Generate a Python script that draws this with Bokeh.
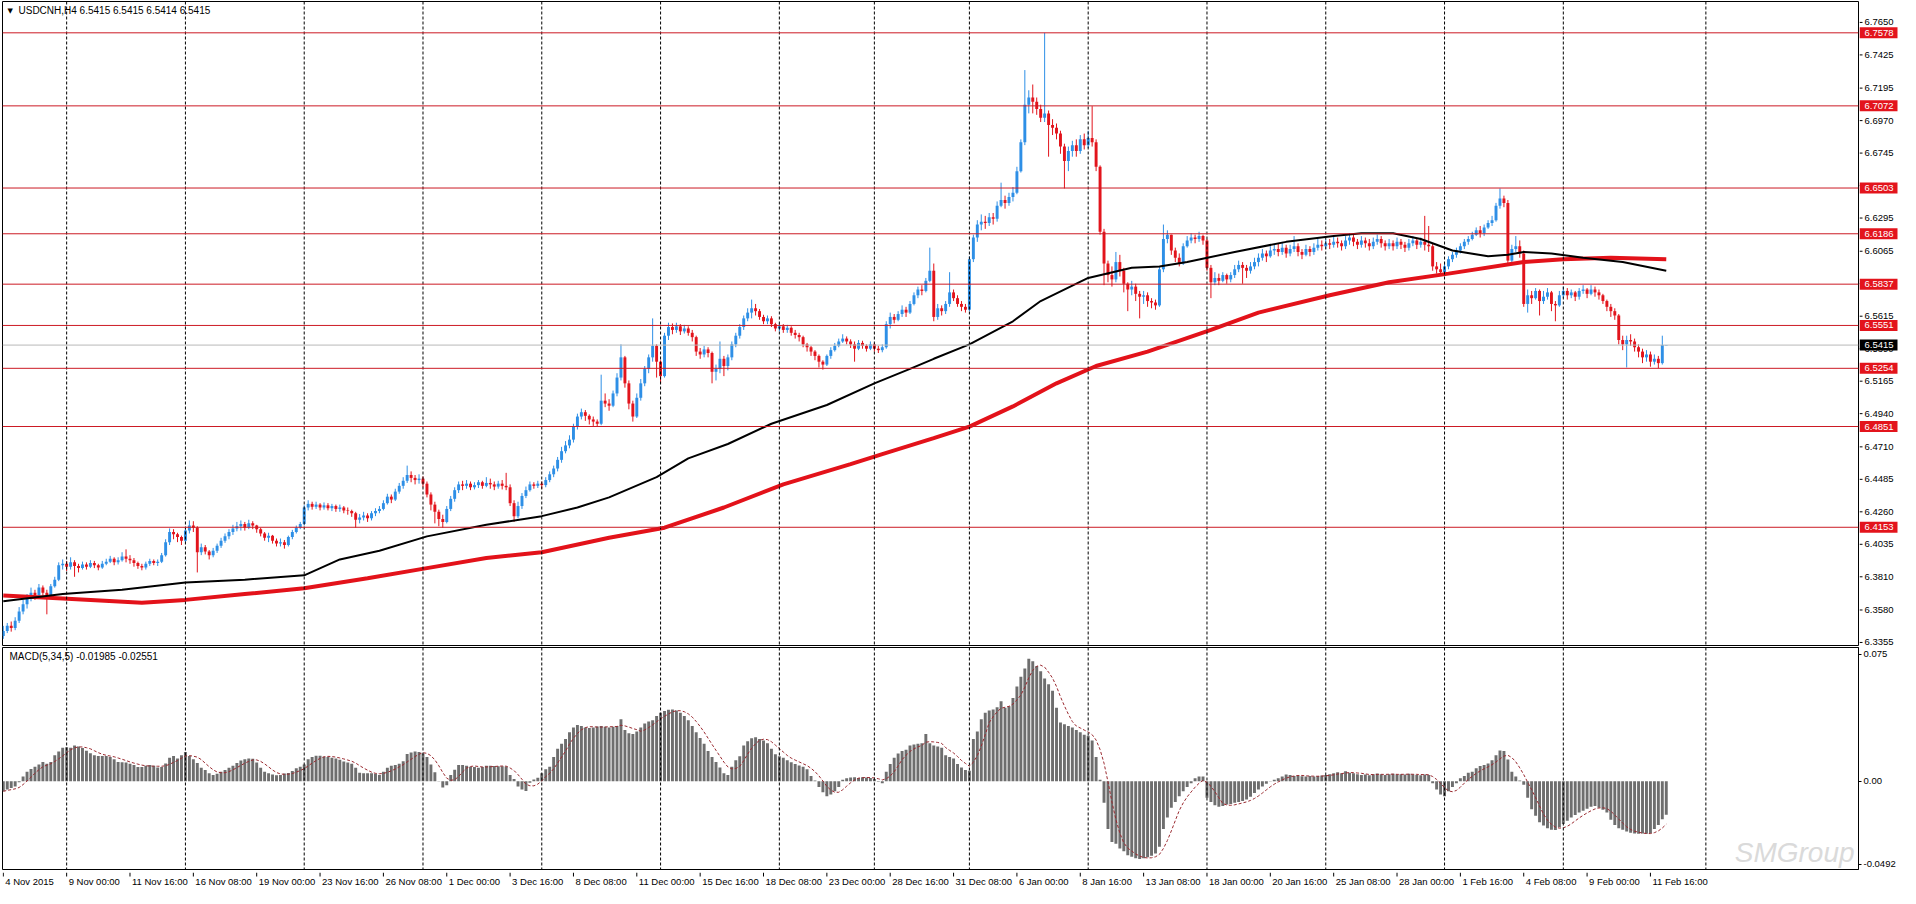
from bokeh.plotting import figure
from bokeh.models import Range1d, FixedTicker, Label, Span, ColumnDataSource
from bokeh.layouts import column, row
from bokeh.embed import file_html
from bokeh.resources import INLINE
from bokeh.core.properties import value

FONT = "Liberation Sans"

# ---------------- data ----------------
first_open = 6.3400

close = [
6.3435, 6.3470, 6.3455, 6.3505, 6.3570, 6.3620, 6.3660, 6.3700, 6.3680, 6.3735,
6.3700, 6.3680, 6.3745, 6.3790, 6.3890, 6.3900, 6.3880, 6.3910, 6.3885, 6.3870,
6.3895, 6.3880, 6.3905, 6.3890, 6.3875, 6.3900, 6.3915, 6.3935, 6.3910, 6.3925,
6.3950, 6.3935, 6.3925, 6.3905, 6.3885, 6.3875, 6.3900, 6.3920, 6.3905, 6.3915,
6.3960, 6.4050, 6.4120, 6.4105, 6.4085, 6.4060, 6.4130, 6.4165, 6.4150, 6.3980,
6.4015, 6.3985, 6.3960, 6.3990, 6.4025, 6.4060, 6.4090, 6.4120, 6.4145, 6.4160,
6.4175, 6.4150, 6.4180, 6.4165, 6.4140, 6.4110, 6.4080, 6.4095, 6.4060, 6.4040,
6.4050, 6.4030, 6.4085, 6.4120, 6.4150, 6.4175, 6.4290, 6.4315, 6.4295, 6.4310,
6.4290, 6.4305, 6.4285, 6.4300, 6.4280, 6.4290, 6.4270, 6.4265, 6.4250, 6.4205,
6.4220, 6.4235, 6.4215, 6.4250, 6.4265, 6.4280, 6.4320, 6.4365, 6.4345, 6.4400,
6.4440, 6.4475, 6.4515, 6.4495, 6.4480, 6.4490, 6.4455, 6.4380, 6.4310, 6.4260,
6.4210, 6.4190, 6.4280, 6.4350, 6.4410, 6.4450, 6.4440, 6.4455, 6.4430, 6.4445,
6.4465, 6.4440, 6.4460, 6.4450, 6.4435, 6.4455, 6.4440, 6.4430, 6.4320, 6.4230,
6.4300, 6.4370, 6.4410, 6.4450, 6.4440, 6.4455, 6.4445, 6.4480, 6.4520, 6.4560,
6.4620, 6.4680, 6.4720, 6.4760, 6.4850, 6.4920, 6.4950, 6.4925, 6.4900, 6.4885,
6.4870, 6.5030, 6.5010, 6.4995, 6.5080, 6.5190, 6.5330, 6.5150, 6.5010, 6.4920,
6.5050, 6.5150, 6.5250, 6.5330, 6.5410, 6.5300, 6.5200, 6.5480, 6.5540, 6.5520,
6.5545, 6.5510, 6.5530, 6.5500, 6.5470, 6.5370, 6.5350, 6.5385, 6.5360, 6.5230,
6.5250, 6.5320, 6.5270, 6.5330, 6.5420, 6.5480, 6.5540, 6.5600, 6.5640, 6.5670,
6.5650, 6.5610, 6.5580, 6.5600, 6.5560, 6.5530, 6.5545, 6.5520, 6.5535, 6.5500,
6.5485, 6.5470, 6.5420, 6.5400, 6.5370, 6.5340, 6.5300, 6.5280, 6.5340, 6.5380,
6.5410, 6.5440, 6.5460, 6.5440, 6.5420, 6.5390, 6.5430, 6.5410, 6.5390, 6.5420,
6.5390, 6.5380, 6.5400, 6.5560, 6.5610, 6.5590, 6.5630, 6.5660, 6.5640, 6.5700,
6.5760, 6.5800, 6.5790, 6.5860, 6.5930, 6.5610, 6.5670, 6.5650, 6.5700, 6.5780,
6.5740, 6.5700, 6.5680, 6.5660, 6.6010, 6.6160, 6.6250, 6.6270, 6.6260, 6.6300,
6.6290, 6.6380, 6.6420, 6.6400, 6.6440, 6.6470, 6.6620, 6.6820, 6.7080, 6.7130,
6.7100, 6.7050, 6.6990, 6.7020, 6.6940, 6.6920, 6.6880, 6.6790, 6.6690, 6.6760,
6.6800, 6.6760, 6.6840, 6.6800, 6.6850, 6.6820, 6.6650, 6.6200, 6.5980, 6.5900,
6.5870, 6.5990, 6.5930, 6.5840, 6.5800, 6.5820, 6.5770, 6.5750, 6.5760, 6.5720,
6.5710, 6.5690, 6.5940, 6.6150, 6.6180, 6.6070, 6.6020, 6.5980, 6.6100, 6.6140,
6.6160, 6.6150, 6.6170, 6.6140, 6.5950, 6.5850, 6.5880, 6.5860, 6.5900, 6.5870,
6.5900, 6.5940, 6.5970, 6.5950, 6.5930, 6.5960, 6.5990, 6.6020, 6.6050, 6.6030,
6.6070, 6.6080, 6.6060, 6.6090, 6.6050, 6.6080, 6.6100, 6.6060, 6.6040, 6.6080,
6.6060, 6.6090, 6.6110, 6.6100, 6.6120, 6.6110, 6.6130, 6.6120, 6.6100, 6.6140,
6.6160, 6.6130, 6.6110, 6.6140, 6.6120, 6.6100, 6.6130, 6.6150, 6.6120, 6.6100,
6.6120, 6.6100, 6.6130, 6.6110, 6.6090, 6.6120, 6.6140, 6.6110, 6.6130, 6.6110,
6.6100, 6.5960, 6.5940, 6.5920, 6.5960, 6.6010, 6.6040, 6.6070, 6.6100, 6.6130,
6.6150, 6.6180, 6.6210, 6.6190, 6.6230, 6.6260, 6.6280, 6.6380, 6.6430, 6.6400,
6.6000, 6.6080, 6.6100, 6.6050, 6.5700, 6.5760, 6.5740, 6.5790, 6.5720, 6.5750,
6.5780, 6.5700, 6.5690, 6.5760, 6.5790, 6.5760, 6.5780, 6.5750, 6.5790, 6.5800,
6.5770, 6.5800, 6.5780, 6.5760, 6.5720, 6.5680, 6.5650, 6.5620, 6.5450, 6.5420,
6.5450, 6.5440, 6.5400, 6.5370, 6.5330, 6.5350, 6.5300, 6.5320, 6.5290, 6.5415, 6.5415,
]

high = [
6.3470, 6.3490, 6.3500, 6.3530, 6.3600, 6.3650, 6.3690, 6.3735, 6.3720, 6.3760,
6.3750, 6.3720, 6.3760, 6.3810, 6.3910, 6.3930, 6.3920, 6.3945, 6.3925, 6.3900,
6.3915, 6.3910, 6.3925, 6.3920, 6.3900, 6.3920, 6.3935, 6.3955, 6.3945, 6.3945,
6.3980, 6.4000, 6.3960, 6.3940, 6.3915, 6.3900, 6.3915, 6.3935, 6.3930, 6.3930,
6.3975, 6.4070, 6.4145, 6.4140, 6.4115, 6.4095, 6.4150, 6.4200, 6.4195, 6.4160,
6.4040, 6.4030, 6.3995, 6.4010, 6.4040, 6.4080, 6.4110, 6.4140, 6.4170, 6.4190,
6.4200, 6.4190, 6.4205, 6.4195, 6.4170, 6.4150, 6.4120, 6.4115, 6.4100, 6.4075,
6.4075, 6.4065, 6.4095, 6.4135, 6.4165, 6.4190, 6.4305, 6.4340, 6.4330, 6.4330,
6.4320, 6.4325, 6.4320, 6.4315, 6.4310, 6.4310, 6.4300, 6.4290, 6.4275, 6.4260,
6.4245, 6.4260, 6.4250, 6.4265, 6.4285, 6.4300, 6.4340, 6.4385, 6.4380, 6.4420,
6.4460, 6.4500, 6.4580, 6.4540, 6.4515, 6.4520, 6.4505, 6.4470, 6.4395, 6.4330,
6.4275, 6.4240, 6.4300, 6.4370, 6.4430, 6.4470, 6.4475, 6.4480, 6.4470, 6.4465,
6.4480, 6.4475, 6.4500, 6.4490, 6.4470, 6.4475, 6.4480, 6.4530, 6.4450, 6.4340,
6.4330, 6.4390, 6.4435, 6.4470, 6.4465, 6.4475, 6.4470, 6.4500, 6.4540, 6.4580,
6.4640, 6.4710, 6.4750, 6.4790, 6.4870, 6.4940, 6.4975, 6.4965, 6.4935, 6.4920,
6.4900, 6.5210, 6.5080, 6.5040, 6.5100, 6.5220, 6.5420, 6.5340, 6.5170, 6.5030,
6.5080, 6.5180, 6.5270, 6.5350, 6.5600, 6.5420, 6.5310, 6.5500, 6.5570, 6.5565,
6.5570, 6.5560, 6.5555, 6.5545, 6.5520, 6.5480, 6.5395, 6.5410, 6.5400, 6.5370,
6.5280, 6.5440, 6.5340, 6.5350, 6.5440, 6.5500, 6.5560, 6.5620, 6.5670, 6.5730,
6.5700, 6.5665, 6.5625, 6.5620, 6.5615, 6.5570, 6.5565, 6.5560, 6.5555, 6.5545,
6.5520, 6.5500, 6.5480, 6.5430, 6.5410, 6.5380, 6.5350, 6.5310, 6.5350, 6.5400,
6.5430, 6.5460, 6.5490, 6.5475, 6.5455, 6.5440, 6.5450, 6.5445, 6.5420, 6.5440,
6.5430, 6.5410, 6.5420, 6.5580, 6.5640, 6.5630, 6.5650, 6.5690, 6.5680, 6.5720,
6.5780, 6.5820, 6.5830, 6.5880, 6.6090, 6.5980, 6.5700, 6.5690, 6.5720, 6.5920,
6.5800, 6.5760, 6.5720, 6.5700, 6.6030, 6.6180, 6.6280, 6.6320, 6.6310, 6.6330,
6.6330, 6.6410, 6.6540, 6.6450, 6.6470, 6.6510, 6.6650, 6.6840, 6.7320, 6.7180,
6.7220, 6.7130, 6.7080, 6.7578, 6.7040, 6.6980, 6.6950, 6.6900, 6.6810, 6.6790,
6.6830, 6.6840, 6.6870, 6.6880, 6.6900, 6.7070, 6.6840, 6.6660, 6.6220, 6.6000,
6.5960, 6.6060, 6.6040, 6.5950, 6.5850, 6.5860, 6.5840, 6.5790, 6.5790, 6.5780,
6.5740, 6.5730, 6.5960, 6.6250, 6.6210, 6.6180, 6.6090, 6.6050, 6.6120, 6.6170,
6.6190, 6.6180, 6.6200, 6.6180, 6.6150, 6.5970, 6.5920, 6.5910, 6.5920, 6.5910,
6.5920, 6.5970, 6.6000, 6.5990, 6.5970, 6.5990, 6.6020, 6.6050, 6.6080, 6.6070,
6.6100, 6.6110, 6.6120, 6.6130, 6.6110, 6.6110, 6.6170, 6.6120, 6.6080, 6.6110,
6.6100, 6.6120, 6.6150, 6.6140, 6.6150, 6.6150, 6.6170, 6.6160, 6.6140, 6.6170,
6.6190, 6.6180, 6.6150, 6.6170, 6.6160, 6.6150, 6.6160, 6.6180, 6.6170, 6.6140,
6.6150, 6.6140, 6.6160, 6.6150, 6.6130, 6.6150, 6.6170, 6.6150, 6.6160, 6.6310,
6.6240, 6.6120, 6.5990, 6.5980, 6.5990, 6.6030, 6.6060, 6.6090, 6.6120, 6.6150,
6.6170, 6.6200, 6.6230, 6.6240, 6.6250, 6.6280, 6.6310, 6.6400, 6.6500, 6.6450,
6.6420, 6.6110, 6.6170, 6.6140, 6.6070, 6.5800, 6.5790, 6.5810, 6.5800, 6.5790,
6.5810, 6.5790, 6.5720, 6.5790, 6.5820, 6.5810, 6.5800, 6.5790, 6.5810, 6.5830,
6.5810, 6.5830, 6.5820, 6.5800, 6.5770, 6.5730, 6.5700, 6.5670, 6.5630, 6.5480,
6.5480, 6.5490, 6.5460, 6.5420, 6.5390, 6.5380, 6.5370, 6.5350, 6.5340, 6.5480, 6.5415,
]

low = [
6.3380, 6.3420, 6.3430, 6.3440, 6.3490, 6.3550, 6.3590, 6.3640, 6.3650, 6.3670,
6.3680, 6.3550, 6.3670, 6.3735, 6.3780, 6.3860, 6.3850, 6.3860, 6.3810, 6.3840,
6.3860, 6.3860, 6.3870, 6.3870, 6.3855, 6.3865, 6.3890, 6.3905, 6.3890, 6.3895,
6.3915, 6.3910, 6.3900, 6.3880, 6.3865, 6.3855, 6.3860, 6.3885, 6.3890, 6.3885,
6.3905, 6.3950, 6.4030, 6.4070, 6.4050, 6.4030, 6.4050, 6.4110, 6.4120, 6.3840,
6.3960, 6.3965, 6.3930, 6.3945, 6.3975, 6.4010, 6.4045, 6.4070, 6.4100, 6.4125,
6.4130, 6.4130, 6.4140, 6.4140, 6.4115, 6.4090, 6.4060, 6.4050, 6.4040, 6.4020,
6.4020, 6.4005, 6.4020, 6.4070, 6.4110, 6.4140, 6.4165, 6.4270, 6.4275, 6.4280,
6.4270, 6.4275, 6.4270, 6.4265, 6.4260, 6.4260, 6.4250, 6.4240, 6.4225, 6.4150,
6.4180, 6.4200, 6.4190, 6.4200, 6.4230, 6.4250, 6.4270, 6.4310, 6.4320, 6.4335,
6.4385, 6.4420, 6.4460, 6.4465, 6.4450, 6.4455, 6.4430, 6.4360, 6.4270, 6.4180,
6.4160, 6.4150, 6.4180, 6.4265, 6.4330, 6.4390, 6.4410, 6.4420, 6.4410, 6.4415,
6.4425, 6.4420, 6.4430, 6.4420, 6.4410, 6.4420, 6.4415, 6.4410, 6.4300, 6.4190,
6.4215, 6.4280, 6.4355, 6.4400, 6.4420, 6.4425, 6.4420, 6.4430, 6.4465, 6.4500,
6.4540, 6.4600, 6.4665, 6.4700, 6.4740, 6.4830, 6.4900, 6.4890, 6.4865, 6.4855,
6.4850, 6.4860, 6.4985, 6.4960, 6.4985, 6.5060, 6.5170, 6.5120, 6.4970, 6.4885,
6.4910, 6.5030, 6.5130, 6.5220, 6.5300, 6.5190, 6.5150, 6.5190, 6.5450, 6.5490,
6.5500, 6.5485, 6.5495, 6.5480, 6.5440, 6.5340, 6.5320, 6.5330, 6.5330, 6.5150,
6.5170, 6.5220, 6.5200, 6.5240, 6.5310, 6.5400, 6.5460, 6.5520, 6.5580, 6.5600,
6.5620, 6.5590, 6.5560, 6.5560, 6.5540, 6.5510, 6.5510, 6.5500, 6.5500, 6.5480,
6.5460, 6.5440, 6.5400, 6.5370, 6.5340, 6.5310, 6.5260, 6.5245, 6.5270, 6.5320,
6.5370, 6.5400, 6.5430, 6.5420, 6.5395, 6.5300, 6.5380, 6.5390, 6.5370, 6.5380,
6.5370, 6.5360, 6.5365, 6.5390, 6.5530, 6.5565, 6.5580, 6.5610, 6.5610, 6.5630,
6.5690, 6.5740, 6.5760, 6.5780, 6.5850, 6.5580, 6.5590, 6.5620, 6.5630, 6.5680,
6.5720, 6.5680, 6.5650, 6.5640, 6.5650, 6.5990, 6.6130, 6.6210, 6.6220, 6.6240,
6.6250, 6.6270, 6.6370, 6.6360, 6.6380, 6.6410, 6.6460, 6.6610, 6.6800, 6.7020,
6.7020, 6.7010, 6.6960, 6.6960, 6.6720, 6.6870, 6.6840, 6.6740, 6.6500, 6.6620,
6.6720, 6.6720, 6.6740, 6.6770, 6.6780, 6.6790, 6.6620, 6.6180, 6.5830, 6.5850,
6.5820, 6.5850, 6.5890, 6.5780, 6.5650, 6.5760, 6.5720, 6.5600, 6.5700, 6.5680,
6.5670, 6.5660, 6.5680, 6.5920, 6.6120, 6.6040, 6.5990, 6.5960, 6.5970, 6.6090,
6.6120, 6.6120, 6.6130, 6.6110, 6.5930, 6.5740, 6.5830, 6.5830, 6.5850, 6.5840,
6.5850, 6.5880, 6.5920, 6.5840, 6.5880, 6.5910, 6.5940, 6.5960, 6.6000, 6.5990,
6.6020, 6.6040, 6.6030, 6.6040, 6.6020, 6.6030, 6.6060, 6.6030, 6.6010, 6.6030,
6.6030, 6.6040, 6.6070, 6.6070, 6.6080, 6.6080, 6.6090, 6.6090, 6.6070, 6.6080,
6.6110, 6.6100, 6.6080, 6.6090, 6.6090, 6.6070, 6.6080, 6.6110, 6.6090, 6.6070,
6.6080, 6.6070, 6.6080, 6.6080, 6.6060, 6.6070, 6.6100, 6.6080, 6.6090, 6.6070,
6.6060, 6.5930, 6.5910, 6.5900, 6.5910, 6.5940, 6.5990, 6.6020, 6.6050, 6.6080,
6.6110, 6.6140, 6.6170, 6.6160, 6.6170, 6.6220, 6.6240, 6.6270, 6.6360, 6.6370,
6.5980, 6.5990, 6.6060, 6.6020, 6.5680, 6.5640, 6.5700, 6.5730, 6.5620, 6.5700,
6.5730, 6.5650, 6.5580, 6.5680, 6.5740, 6.5730, 6.5740, 6.5720, 6.5730, 6.5770,
6.5740, 6.5760, 6.5750, 6.5730, 6.5700, 6.5650, 6.5610, 6.5590, 6.5420, 6.5380,
6.5260, 6.5410, 6.5370, 6.5330, 6.5290, 6.5300, 6.5265, 6.5280, 6.5255, 6.5280, 6.5414,
]

macd_main = [
-0.0060, -0.0050, -0.0041, -0.0031, -0.0006, 0.0027, 0.0056, 0.0072, 0.0085, 0.0099,
0.0114, 0.0103, 0.0114, 0.0153, 0.0176, 0.0198, 0.0201, 0.0198, 0.0211, 0.0205,
0.0196, 0.0180, 0.0165, 0.0153, 0.0149, 0.0149, 0.0149, 0.0143, 0.0130, 0.0114,
0.0112, 0.0110, 0.0103, 0.0095, 0.0083, 0.0083, 0.0091, 0.0095, 0.0091, 0.0081,
0.0083, 0.0105, 0.0138, 0.0149, 0.0134, 0.0153, 0.0172, 0.0149, 0.0130, 0.0107,
0.0079, 0.0066, 0.0046, 0.0037, 0.0043, 0.0056, 0.0066, 0.0079, 0.0091, 0.0108,
0.0122, 0.0130, 0.0134, 0.0132, 0.0110, 0.0079, 0.0056, 0.0046, 0.0039, 0.0035,
0.0037, 0.0045, 0.0048, 0.0060, 0.0076, 0.0085, 0.0099, 0.0130, 0.0143, 0.0151,
0.0151, 0.0145, 0.0143, 0.0138, 0.0134, 0.0126, 0.0116, 0.0110, 0.0103, 0.0079,
0.0050, 0.0046, 0.0046, 0.0046, 0.0043, 0.0037, 0.0056, 0.0079, 0.0091, 0.0095,
0.0103, 0.0118, 0.0161, 0.0169, 0.0176, 0.0172, 0.0163, 0.0143, 0.0099, 0.0052,
-0.0002, -0.0037, -0.0025, 0.0037, 0.0068, 0.0095, 0.0095, 0.0091, 0.0085, 0.0083,
0.0079, 0.0083, 0.0091, 0.0091, 0.0089, 0.0088, 0.0088, 0.0087, 0.0037, 0.0012,
-0.0031, -0.0050, -0.0058, -0.0010, 0.0010, 0.0020, 0.0046, 0.0070, 0.0085, 0.0143,
0.0192, 0.0221, 0.0250, 0.0289, 0.0318, 0.0333, 0.0327, 0.0318, 0.0314, 0.0318,
0.0323, 0.0327, 0.0322, 0.0318, 0.0322, 0.0327, 0.0366, 0.0302, 0.0283, 0.0279,
0.0294, 0.0318, 0.0341, 0.0353, 0.0360, 0.0385, 0.0405, 0.0415, 0.0422, 0.0424,
0.0418, 0.0405, 0.0385, 0.0360, 0.0327, 0.0289, 0.0256, 0.0221, 0.0178, 0.0143,
0.0114, 0.0081, 0.0046, 0.0037, 0.0085, 0.0124, 0.0147, 0.0211, 0.0236, 0.0254,
0.0260, 0.0250, 0.0240, 0.0225, 0.0192, 0.0159, 0.0147, 0.0139, 0.0124, 0.0112,
0.0101, 0.0093, 0.0085, 0.0070, 0.0031, 0.0004, -0.0035, -0.0066, -0.0089, -0.0079,
-0.0060, -0.0035, 0.0008, 0.0017, 0.0021, 0.0023, 0.0019, 0.0023, 0.0021, 0.0019,
0.0012, -0.0004, -0.0012, 0.0056, 0.0101, 0.0139, 0.0163, 0.0178, 0.0186, 0.0211,
0.0217, 0.0221, 0.0225, 0.0279, 0.0225, 0.0211, 0.0205, 0.0198, 0.0153, 0.0143,
0.0134, 0.0101, 0.0081, 0.0066, 0.0062, 0.0250, 0.0294, 0.0366, 0.0405, 0.0418,
0.0424, 0.0438, 0.0473, 0.0434, 0.0444, 0.0492, 0.0560, 0.0618, 0.0666, 0.0724,
0.0709, 0.0682, 0.0651, 0.0608, 0.0573, 0.0535, 0.0434, 0.0347, 0.0337, 0.0327,
0.0318, 0.0302, 0.0289, 0.0275, 0.0269, 0.0240, 0.0143, 0.0008, -0.0128, -0.0283,
-0.0360, -0.0370, -0.0399, -0.0415, -0.0438, -0.0447, -0.0457, -0.0461, -0.0457, -0.0451,
-0.0442, -0.0428, -0.0389, -0.0283, -0.0215, -0.0157, -0.0124, -0.0089, -0.0060, -0.0035,
-0.0012, 0.0017, 0.0027, 0.0027, -0.0099, -0.0124, -0.0143, -0.0151, -0.0147, -0.0139,
-0.0136, -0.0128, -0.0124, -0.0118, -0.0108, -0.0093, -0.0070, -0.0050, -0.0031, -0.0015,
-0.0002, 0.0008, 0.0017, 0.0027, 0.0039, 0.0037, 0.0031, 0.0033, 0.0029, 0.0027,
0.0031, 0.0027, 0.0031, 0.0033, 0.0037, 0.0041, 0.0046, 0.0052, 0.0046, 0.0058,
0.0050, 0.0046, 0.0041, 0.0037, 0.0039, 0.0035, 0.0041, 0.0045, 0.0041, 0.0037,
0.0041, 0.0043, 0.0039, 0.0041, 0.0039, 0.0043, 0.0041, 0.0037, 0.0035, 0.0039,
0.0037, -0.0012, -0.0050, -0.0079, -0.0089, -0.0060, -0.0035, -0.0012, 0.0017, 0.0031,
0.0050, 0.0056, 0.0076, 0.0089, 0.0095, 0.0105, 0.0124, 0.0153, 0.0182, 0.0178,
0.0128, 0.0056, 0.0027, 0.0004, -0.0021, -0.0099, -0.0167, -0.0205, -0.0244, -0.0263,
-0.0279, -0.0287, -0.0289, -0.0273, -0.0254, -0.0234, -0.0215, -0.0201, -0.0186, -0.0176,
-0.0163, -0.0151, -0.0147, -0.0157, -0.0170, -0.0186, -0.0229, -0.0260, -0.0279, -0.0287,
-0.0298, -0.0306, -0.0310, -0.0312, -0.0310, -0.0312, -0.0308, -0.0283, -0.0260, -0.0225, -0.0199,
]

# moving averages read at points along the lines (bar index, price)
ma_fast_bar = [0, 15, 30, 46, 61, 76, 85, 95, 107, 122, 136, 145, 153, 165, 173, 183, 194, 208,
               220, 229, 235, 244, 255, 262, 274, 285, 292, 299, 311, 324, 336, 343, 351, 358,
               366, 375, 380, 384, 391, 399, 409, 420]
ma_fast_val = [6.364, 6.369, 6.372, 6.377, 6.379, 6.382, 6.393, 6.399, 6.409, 6.417, 6.423, 6.429,
               6.436, 6.450, 6.463, 6.473, 6.487, 6.500, 6.515, 6.525, 6.532, 6.542, 6.558, 6.572,
               6.588, 6.595, 6.596, 6.599, 6.606, 6.613, 6.617, 6.619, 6.619, 6.615, 6.607, 6.603,
               6.604, 6.606, 6.605, 6.602, 6.599, 6.593]
ma_slow_bar = [0, 15, 35, 46, 61, 76, 92, 107, 122, 136, 153, 167, 182, 197, 214, 222, 235, 244,
               255, 266, 276, 289, 305, 317, 335, 350, 365, 384, 394, 406, 420]
ma_slow_val = [6.368, 6.366, 6.363, 6.365, 6.369, 6.373, 6.380, 6.387, 6.394, 6.398, 6.408, 6.415,
               6.429, 6.445, 6.459, 6.466, 6.477, 6.485, 6.499, 6.515, 6.527, 6.537, 6.552, 6.564,
               6.576, 6.585, 6.591, 6.599, 6.601, 6.602, 6.601]

levels = [6.7578, 6.7072, 6.6503, 6.6186, 6.5837, 6.5551, 6.5254, 6.4851, 6.4153]
last_price = 6.5415

price_ticks = [6.3355, 6.3580, 6.3810, 6.4035, 6.4260, 6.4485, 6.4710, 6.4940, 6.5165, 6.5390,
               6.5615, 6.5840, 6.6065, 6.6295, 6.6520, 6.6745, 6.6970, 6.7195, 6.7425, 6.7650]
macd_ticks = [0.075, 0.0, -0.0492]
macd_tick_labels = ["0.075", "0.00", "-0.0492"]

time_labels = ["4 Nov 2015", "9 Nov 00:00", "11 Nov 16:00", "16 Nov 08:00", "19 Nov 00:00",
               "23 Nov 16:00", "26 Nov 08:00", "1 Dec 00:00", "3 Dec 16:00", "8 Dec 08:00",
               "11 Dec 00:00", "15 Dec 16:00", "18 Dec 08:00", "23 Dec 00:00", "28 Dec 16:00",
               "31 Dec 08:00", "6 Jan 00:00", "8 Jan 16:00", "13 Jan 08:00", "18 Jan 00:00",
               "20 Jan 16:00", "25 Jan 08:00", "28 Jan 00:00", "1 Feb 16:00", "4 Feb 08:00",
               "9 Feb 00:00", "11 Feb 16:00"]
time_label_bars = [0, 16, 32, 48, 64, 80, 96, 112, 128, 144, 160, 176, 192, 208, 224, 240, 256,
                   272, 288, 304, 320, 336, 352, 368, 384, 400, 416]
week_grid = [16, 46, 76, 106, 136, 166, 196, 220, 244, 274, 304, 334, 364, 394, 430]

header_text = "USDCNH,H4  6.5415 6.5415 6.5414 6.5415"
macd_header = "MACD(5,34,5) -0.01985 -0.02551"
watermark = "SMGroup"

# ---------------- derived ----------------
n = min(len(close), len(high), len(low), len(macd_main))
close = close[:n]; high = high[:n]; low = low[:n]; macd_main = macd_main[:n]
opens = [first_open] + close[:-1]
xs = list(range(n))
hi = [max(h, o, c) for h, o, c in zip(high, opens, close)]
lo = [min(l, o, c) for l, o, c in zip(low, opens, close)]

signal = []
for i in range(n):
    w = macd_main[max(0, i - 4):i + 1]
    signal.append(sum(w) / len(w))

BULL = "#2E8FE6"
BEAR = "#E2141C"

def candle_src(up):
    d = dict(x=[], top=[], bottom=[], hi=[], lo=[])
    for i in xs:
        o, c = opens[i], close[i]
        if (c >= o) == up:
            d["x"].append(i)
            d["top"].append(max(o, c))
            d["bottom"].append(min(o, c) if abs(c - o) > 0.00005 else min(o, c) - 0.0003)
            d["hi"].append(hi[i])
            d["lo"].append(lo[i])
    return ColumnDataSource(d)

# ---------------- geometry ----------------
W = 1856          # chart frame width
AXW = 39          # right scale strip
X0, X1 = -0.2, 468.55
PPB = W / (X1 - X0)
P_LO, P_HI = 6.3334, 6.7795
M_LO, M_HI = -0.0523, 0.0791
HP, HM, HT = 644, 222, 16
xr = Range1d(X0, X1)
yr_p = Range1d(P_LO, P_HI)
yr_m = Range1d(M_LO, M_HI)
p_per_px = (P_HI - P_LO) / HP
m_per_px = (M_HI - M_LO) / HM

common = dict(toolbar_location=None, output_backend="svg", min_border=0,
              background_fill_color="white", border_fill_color="white")

# ---------------- price panel ----------------
p1 = figure(frame_width=W, frame_height=HP, x_range=xr, y_range=yr_p,
            x_axis_location=None, y_axis_location=None,
            min_border_left=2, min_border_right=1, min_border_top=1, min_border_bottom=1,
            outline_line_color="black", **common)
p1.xgrid.visible = False
p1.ygrid.visible = False

for g in week_grid:
    p1.add_layout(Span(location=g, dimension="height", line_color="black", line_width=1, line_dash="3 2"))
for lv in levels:
    p1.add_layout(Span(location=lv, dimension="width", line_color="#CC1A24", line_width=1))
p1.add_layout(Span(location=last_price, dimension="width", line_color="#B8B8B8", line_width=1))

for up, col in ((True, BULL), (False, BEAR)):
    s = candle_src(up)
    p1.segment(x0="x", y0="lo", x1="x", y1="hi", source=s, line_color=col, line_width=1)
    p1.vbar(x="x", width=0.74, top="top", bottom="bottom", source=s, fill_color=col, line_color=None)

p1.line(ma_slow_bar, ma_slow_val, line_color="#E3121A", line_width=4)
p1.line(ma_fast_bar, ma_fast_val, line_color="black", line_width=2)

p1.add_layout(Label(x=X0, y=P_HI - 9 * p_per_px, x_offset=5, text="\u25bc", text_align="left",
                    text_baseline="middle", text_font="DejaVu Sans", text_font_size="7px",
                    text_color="black"))
p1.add_layout(Label(x=X0, y=P_HI - 9 * p_per_px, x_offset=16, text=header_text, text_align="left",
                    text_baseline="middle", text_font=FONT, text_font_size="10px",
                    text_color="black"))

# price scale strip (ticks, labels, level boxes) sharing the price scale
pa = figure(frame_width=AXW, frame_height=HP, x_range=Range1d(0, AXW), y_range=yr_p,
            x_axis_location=None, y_axis_location=None,
            min_border_top=1, min_border_bottom=1, outline_line_color=None, **common)
pa.xgrid.visible = False
pa.ygrid.visible = False
pa.segment(x0=[0] * len(price_ticks), y0=price_ticks, x1=[3] * len(price_ticks), y1=price_ticks,
           line_color="black", line_width=1)
pa.text(x=[5] * len(price_ticks), y=price_ticks, text=[f"{t:.4f}" for t in price_ticks],
        text_font=value(FONT), text_font_size=value("9.5px"), text_color="black",
        text_align="left", text_baseline="middle")
box_y = levels + [last_price]
box_c = ["#E3141C"] * len(levels) + ["black"]
pa.rect(x=[AXW / 2 - 0.5] * len(box_y), y=box_y, width=AXW - 1, height=11, height_units="screen",
        fill_color=box_c, line_color=None)
pa.text(x=[5] * len(box_y), y=box_y, text=[f"{v:.4f}" for v in box_y],
        text_font=value(FONT), text_font_size=value("9.5px"), text_color="white",
        text_align="left", text_baseline="middle")

# ---------------- MACD panel ----------------
p2 = figure(frame_width=W, frame_height=HM, x_range=xr, y_range=yr_m,
            x_axis_location=None, y_axis_location="right",
            min_border_left=2, min_border_right=AXW + 1, min_border_top=1, min_border_bottom=3,
            outline_line_color="black", **common)
p2.xgrid.visible = False
p2.ygrid.visible = False
ma = p2.yaxis[0]
ma.ticker = FixedTicker(ticks=macd_ticks)
ma.major_label_overrides = {t: s for t, s in zip(macd_ticks, macd_tick_labels)}
ma.major_label_text_font = FONT
ma.major_label_text_font_size = "9.5px"
ma.major_label_text_color = "black"
ma.major_tick_out = 3
ma.major_tick_in = 0
ma.minor_tick_out = 0
ma.minor_tick_in = 0
ma.major_label_standoff = 2
ma.axis_line_color = "black"

for g in week_grid:
    p2.add_layout(Span(location=g, dimension="height", line_color="black", line_width=1, line_dash="3 2"))

p2.text(x=[X1 - 1.0], y=[M_LO + 2 * m_per_px], text=[watermark], text_font=value(FONT),
        text_font_size=value("28px"), text_font_style="italic", text_color="#DADADA",
        text_align="right", text_baseline="bottom")

p2.vbar(x=xs, width=0.74, top=macd_main, bottom=0, fill_color="#6E6E6E", line_color=None)
p2.line(xs, signal, line_color="#9A2A30", line_width=1, line_dash="3 2")

p2.add_layout(Label(x=X0, y=M_HI - 9 * m_per_px, x_offset=7, text=macd_header, text_align="left",
                    text_baseline="middle", text_font=FONT, text_font_size="10px",
                    text_color="black"))

# ---------------- time scale strip ----------------
pt = figure(frame_width=W + AXW + 1, frame_height=HT,
            x_range=Range1d(X0, X0 + (W + AXW + 1) / PPB), y_range=Range1d(0, HT),
            x_axis_location=None, y_axis_location=None,
            min_border_left=2, outline_line_color=None, **common)
pt.xgrid.visible = False
pt.ygrid.visible = False
pt.segment(x0=time_label_bars, y0=[HT] * len(time_label_bars), x1=time_label_bars,
           y1=[HT - 4] * len(time_label_bars), line_color="black", line_width=1)
pt.text(x=time_label_bars, y=[HT - 3] * len(time_label_bars), text=time_labels, x_offset=2,
        text_font=value(FONT), text_font_size=value("9.5px"), text_color="black",
        text_align="left", text_baseline="top")

layout = column(row(p1, pa, spacing=0), p2, pt, spacing=0)
open("out.html", "w").write(file_html(layout, INLINE))
